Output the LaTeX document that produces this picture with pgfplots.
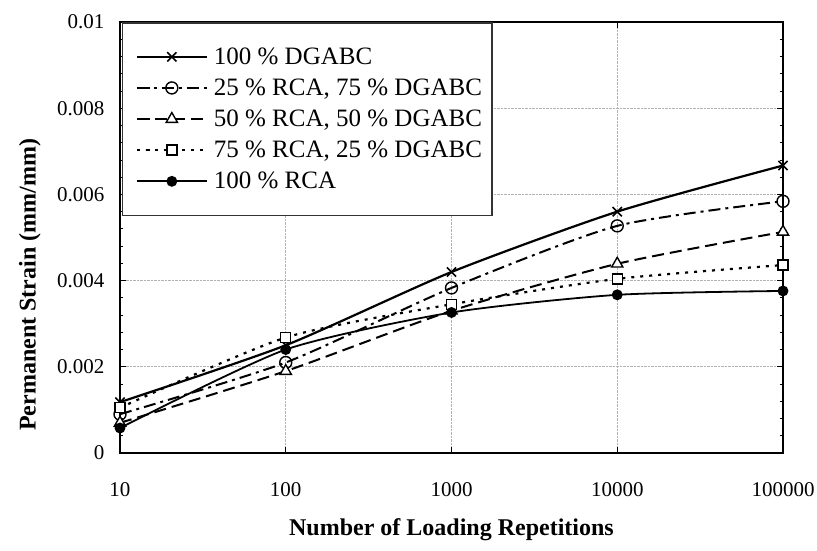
\documentclass[border=0pt]{standalone}
\usepackage{fontspec}
\setmainfont{Liberation Serif}
\usepackage{pgfplots}
\pgfplotsset{compat=1.18}
\begin{document}
\begin{tikzpicture}
\begin{axis}[
  scale only axis, width=663pt, height=431pt,
  xmode=log, log basis x=10,
  xmin=10, xmax=100000, ymin=0, ymax=0.01,
  xtick={10,100,1000,10000,100000},
  xticklabels={10,100,1000,10000,100000},
  ytick={0,0.002,0.004,0.006,0.008,0.01},
  yticklabels={0,0.002,0.004,0.006,0.008,0.01},
  scaled y ticks=false,
  minor y tick num=4,
  axis line style={black, line width=1.6pt},
  tick style={black, line width=0.8pt},
  major tick length=6pt, minor tick length=3pt,
  tick align=inside,
  grid=major,
  major grid style={densely dotted, gray!60, line width=0.8pt},
  ticklabel style={font=\fontsize{21}{24}\selectfont},
  xticklabel style={anchor=center, yshift=-37pt},
  yticklabel style={anchor=east, xshift=-12pt},
  xlabel={Number of Loading Repetitions},
  ylabel={Permanent Strain (mm/mm)},
  label style={font=\bfseries\fontsize{24}{28}\selectfont},
  xlabel style={at={(axis description cs:0.5,-0.179)}, anchor=center},
  ylabel style={at={(axis description cs:-0.136,0.39)}, anchor=center},
  legend style={at={(axis description cs:0.003,1)}, anchor=north west,
    draw=black!80, line width=1.5pt, font=\fontsize{25}{29}\selectfont,
    inner xsep=8pt, inner ysep=23pt, row sep=9pt},
  legend cell align=left,
  legend image code/.code={\draw[mark repeat=2,mark phase=2,#1] plot coordinates {(5pt,0pt) (40pt,0pt) (75pt,0pt)};\path (0pt,0pt) (79pt,0pt);},
]
\coordinate (O) at (rel axis cs:0,0);
\addplot[black, line width=2.2pt, smooth, tension=0.4, mark=x, mark size=6.5pt, mark options={solid, line width=1.6pt}]
  coordinates {(10,0.00118)(100,0.0025)(1000,0.0042)(10000,0.0056)(100000,0.00667)};
\addlegendentry{100 \% DGABC}
\addplot[black, line width=2pt, smooth, tension=0.4, dash pattern=on 12pt off 5pt on 3pt off 5pt, mark=o, mark size=6pt, mark options={solid, fill=white, line width=1.4pt}]
  coordinates {(10,0.0009)(100,0.0021)(1000,0.00383)(10000,0.00527)(100000,0.00584)};
\addlegendentry{25 \% RCA, 75 \% DGABC}
\addplot[black, line width=2pt, smooth, tension=0.4, dash pattern=on 12pt off 6pt, mark=triangle*, mark size=6.5pt, mark options={solid, fill=white, line width=1.4pt}]
  coordinates {(10,0.0007)(100,0.0019)(1000,0.0033)(10000,0.00439)(100000,0.00513)};
\addlegendentry{50 \% RCA, 50 \% DGABC}
\addplot[black, line width=2.2pt, smooth, tension=0.4, dash pattern=on 3pt off 6pt, mark=square*, mark size=5pt, mark options={solid, fill=white, line width=1.4pt}]
  coordinates {(10,0.00105)(100,0.00268)(1000,0.00345)(10000,0.00404)(100000,0.00436)};
\addlegendentry{75 \% RCA, 25 \% DGABC}
\addplot[black, line width=1.8pt, smooth, tension=0.4, mark=*, mark size=4.5pt, mark options={solid, fill=black}]
  coordinates {(10,0.00058)(100,0.0024)(1000,0.00326)(10000,0.00367)(100000,0.00376)};
\addlegendentry{100 \% RCA}
\end{axis}
\pgfresetboundingbox
\path[use as bounding box] ([shift={(-120pt,-97pt)}]O) rectangle ([shift={(697pt,453pt)}]O);
\end{tikzpicture}
\end{document}
